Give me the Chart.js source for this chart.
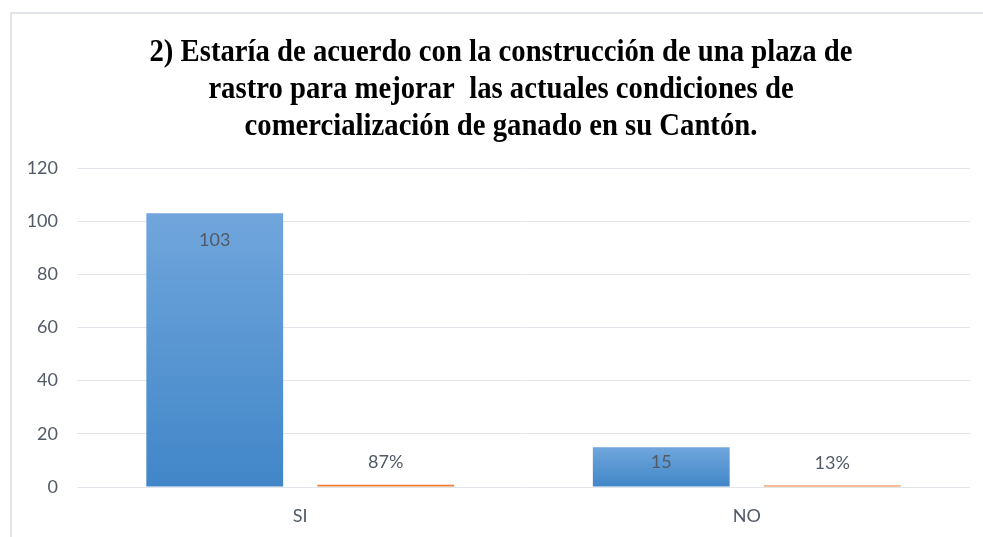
<!DOCTYPE html>
<html>
<head>
<meta charset="utf-8">
<script src="https://cdn.jsdelivr.net/npm/chart.js@4.4.1/dist/chart.umd.min.js"></script>
<style>
  html, body { margin: 0; padding: 0; background: #ffffff; }
  body { width: 983px; height: 537px; position: relative; overflow: hidden; }
  #frame { position: absolute; left: 10px; top: 12px; width: 990px; height: 540px;
           border-top: 2px solid #e1e5ea; border-left: 2px solid #e1e5ea; }
  #c { position: absolute; left: 0; top: 0; }
</style>
</head>
<body>
<div id="frame"></div>
<canvas id="c" width="983" height="537"></canvas>
<script>
// ---- data ----
const categories = ['SI', 'NO'];
const counts = [103, 15];
const percents = [0.87, 0.13];
const yTicks = [0, 20, 40, 60, 80, 100, 120];
const titleLines = [
  '2) Estaría de acuerdo con la construcción de una plaza de',
  'rastro para mejorar  las actuales condiciones de',
  'comercialización de ganado en su Cantón.'
];

const textColor = '#525a66';
const gridColor = '#e2e5ea';

function blueGradient(context) {
  const chart = context.chart;
  if (!chart.chartArea || !chart.scales.y) return '#5b9bd5';
  const y = chart.scales.y;
  const top = y.getPixelForValue(context.raw);
  const bottom = y.getPixelForValue(0);
  if (!isFinite(top) || !isFinite(bottom) || bottom - top < 1) return '#5b9bd5';
  const g = chart.ctx.createLinearGradient(0, top, 0, bottom);
  g.addColorStop(0, '#70a6dc');
  g.addColorStop(1, '#4186c8');
  return g;
}

const titlePlugin = {
  id: 'customTitle',
  afterDraw(chart) {
    const ctx = chart.ctx;
    ctx.save();
    ctx.font = 'bold 31px "Liberation Serif", "Times New Roman", serif';
    ctx.fillStyle = '#000000';
    ctx.textAlign = 'center';
    ctx.textBaseline = 'alphabetic';
    const w = ctx.measureText(titleLines[0]).width;
    const sx = 703 / w;
    const baselines = [61, 98, 135];
    titleLines.forEach((line, i) => {
      ctx.save();
      ctx.translate(501, baselines[i]);
      ctx.scale(sx, 1);
      ctx.fillText(line, 0, 0);
      ctx.restore();
    });
    ctx.restore();
  }
};

const labelPlugin = {
  id: 'valueLabels',
  afterDatasetsDraw(chart) {
    const ctx = chart.ctx;
    ctx.save();
    ctx.font = '18px Lato, "Open Sans", sans-serif';
    ctx.fillStyle = textColor;
    ctx.textAlign = 'center';
    ctx.textBaseline = 'middle';
    chart.data.datasets.forEach((ds, di) => {
      const meta = chart.getDatasetMeta(di);
      meta.data.forEach((el, i) => {
        const v = ds.data[i];
        if (di === 0) {
          const h = el.base - el.y;
          ctx.fillText(String(v), el.x, el.y + Math.min(27, h * 0.38));
        } else {
          ctx.fillText(Math.round(v * 100) + '%', el.x, el.y - 22);
        }
      });
    });
    ctx.restore();
  }
};

new Chart(document.getElementById('c'), {
  type: 'bar',
  data: {
    labels: categories,
    datasets: [
      { label: 'Cantidad', data: counts, backgroundColor: blueGradient, borderWidth: 0,
        categoryPercentage: 0.766, barPercentage: 0.80 },
      { label: 'Porcentaje', data: percents, backgroundColor: '#ed7d31', borderWidth: 0,
        minBarLength: 1.5, categoryPercentage: 0.766, barPercentage: 0.80 }
    ]
  },
  options: {
    responsive: false,
    devicePixelRatio: 1,
    animation: false,
    layout: { padding: { left: 0, right: 13, top: 168, bottom: 0 } },
    plugins: {
      legend: { display: false },
      title: { display: false },
      tooltip: { enabled: false }
    },
    scales: {
      x: {
        grid: { display: false, drawTicks: false },
        border: { display: false },
        ticks: { font: { family: 'Lato', size: 18 }, color: textColor, padding: 18 },
        afterFit(scale) { scale.height = 50; }
      },
      y: {
        min: 0, max: 120,
        afterBuildTicks(scale) { scale.ticks = yTicks.map(v => ({ value: v })); },
        grid: { color: gridColor, lineWidth: 1, drawTicks: false },
        border: { display: false },
        ticks: { font: { family: 'Lato', size: 18 }, color: textColor, padding: 19 },
        afterFit(scale) { scale.width = 77; }
      }
    }
  },
  plugins: [titlePlugin, labelPlugin]
});
</script>
</body>
</html>
